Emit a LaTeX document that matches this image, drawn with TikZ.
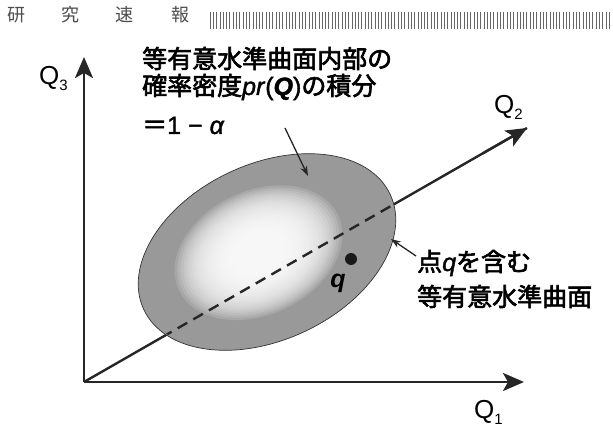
\documentclass[tikz,border=0pt]{standalone}
\usepackage{fontspec}
\setmainfont{Liberation Sans}
\newfontfamily\jp{Noto Sans CJK JP}[FakeBold=2.5]
\newfontfamily\jph{Noto Sans CJK JP}
\newfontfamily\lat{Liberation Sans}[FakeBold=1.5]
\usetikzlibrary{arrows.meta,calc}
\newcommand{\Qsub}[1]{Q\raisebox{-6pt}{\fontsize{15}{15}\selectfont #1}}
\tikzset{
  axis/.style={line width=2.4pt, black!85, -{Stealth[length=21pt,width=18pt,inset=5pt]}},
  q2line/.style={line width=2.4pt, black!85},
  q2dash/.style={line width=2.4pt, black!85, dash pattern=on 11pt off 7pt},
  callout/.style={line width=1.3pt, black!85, -{Stealth[length=10pt,width=7pt]}},
  bigtxt/.style={font=\lat\fontsize{25}{27}\selectfont, inner sep=0pt},
  qlabel/.style={font=\fontsize{26}{27}\selectfont, inner sep=0pt},
  header/.style={font=\jph\fontsize{18}{18}\selectfont, text=black!70, inner sep=0pt},
  hatch/.style={line width=0.8pt, black!60},
  fillgray/.style={fill=black!40},
}
\begin{document}
\begin{tikzpicture}[x=1pt,y=1pt]
\useasboundingbox (0,0) rectangle (613,426);
% header
\node[header] (h1) at (16,411) {研};
\node[header] (h2) at (70,411) {究};
\node[header] (h3) at (124,411) {速};
\node[header] (h4) at (180,411) {報};
\foreach \i in {0,...,121} \draw[hatch] ({210+\i*3.3},397) -- ++(0,17);
% coordinates
\coordinate (O) at (84,44);
\coordinate (Q3tip) at (84,369);
\coordinate (Q1tip) at (524,44);
\coordinate (Q2tip) at (527,298);
\coordinate (C) at (267,174);
% Q2 solid line (under ellipse)
\draw[q2line] (O) -- (Q2tip);
% ellipse
\begin{scope}[shift={(C)}, rotate=25]
  \fill[fillgray] (0,0) ellipse [x radius=136pt, y radius=88pt];
  \foreach \s in {1.0,0.965,...,0.3}
    \fill[white, opacity=0.14] (-8pt,3pt) ellipse [x radius=\s*88pt, y radius=\s*62pt];
  \draw[line width=0.7pt, black!80] (0,0) ellipse [x radius=136pt, y radius=88pt];
\end{scope}
% dashed part
\begin{scope}
  \clip[shift={(C)}, rotate=25] (0,0) ellipse [x radius=135pt, y radius=87pt];
  \draw[q2dash] (O) -- (Q2tip);
\end{scope}
% arrowhead of Q2
\draw[axis] ($(O)!0.9!(Q2tip)$) -- (Q2tip);
% axes
\draw[axis] (O) -- (Q3tip);
\draw[axis] (O) -- (Q1tip);
% point q
\coordinate (q) at (351,167);
\fill[black!90] (q) circle (6pt);
\node[qlabel, font=\fontsize{25}{27}\selectfont\bfseries\itshape] (qlab) at (338,143) {q};
% axis labels
\node[qlabel, anchor=base west] (lQ3) at (39,341) {\Qsub{3}};
\node[qlabel, anchor=base west] (lQ1) at (474,8) {\Qsub{1}};
\node[qlabel, anchor=base west] (lQ2) at (494,312) {\Qsub{2}};
% annotation top
\node[bigtxt, anchor=base west] (t1) at (142,358) {\jp 等有意水準曲面内部の};
\node[bigtxt, anchor=base west] (t2) at (142,331) {{\jp 確率密度}\textit{pr}(\textbf{\textit{Q}}){\jp の積分}};
\node[bigtxt, anchor=base west] (t3) at (142,292) {{\jp ＝}1 − \textit{α}};
\coordinate (a1s) at (285,298);
\coordinate (a1e) at (308,250);
\draw[callout] (a1s) -- (a1e);
% annotation right
\node[bigtxt, anchor=base west] (r1) at (417,155) {{\jp 点}\textit{q}{\jp を含む}};
\node[bigtxt, anchor=base west] (r2) at (417,120) {\jp 等有意水準曲面};
\coordinate (a2s) at (416,170);
\coordinate (a2e) at (391,187);
\draw[callout] (a2s) -- (a2e);
\end{tikzpicture}
\end{document}
